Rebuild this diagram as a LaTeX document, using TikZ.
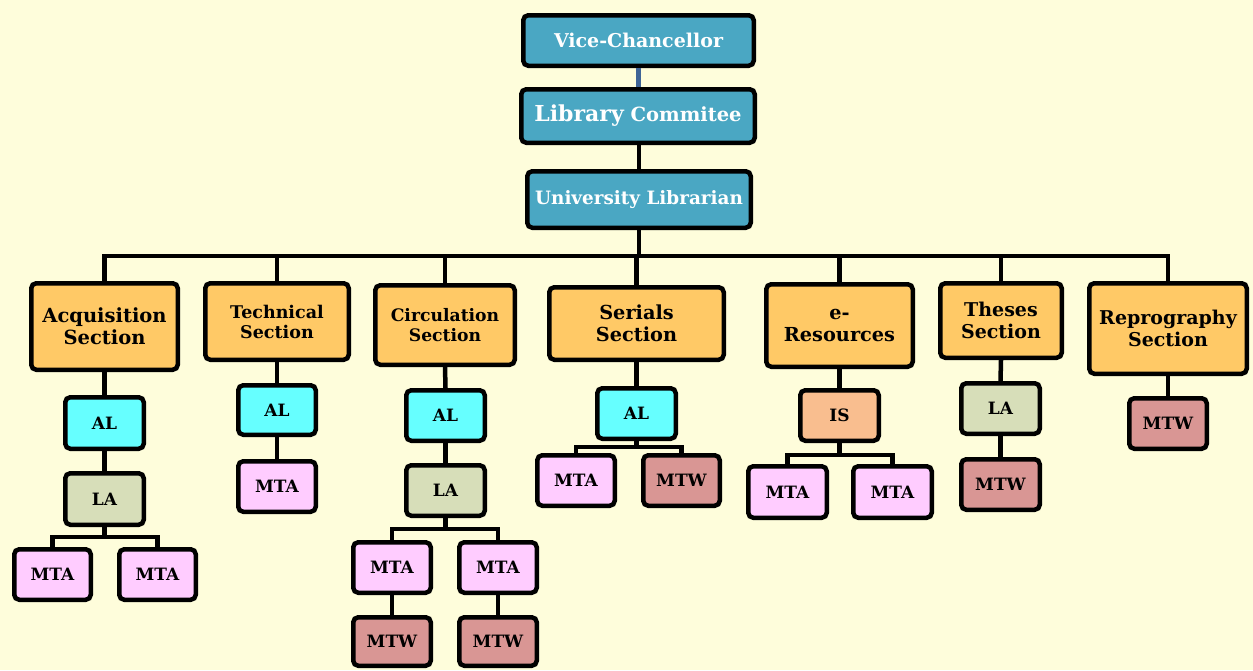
\documentclass[tikz,border=0pt]{standalone}
\usepackage{fontspec}
\setmainfont{DejaVu Serif}
\usetikzlibrary{calc}
\definecolor{bg}{HTML}{FEFDDB}
\definecolor{topc}{HTML}{4AA7C3}
\definecolor{secc}{HTML}{FFC966}
\definecolor{alc}{HTML}{66FFFF}
\definecolor{lac}{HTML}{D7DEB9}
\definecolor{mtac}{HTML}{FFCCFF}
\definecolor{mtwc}{HTML}{D99694}
\definecolor{isc}{HTML}{F9BE8F}
\definecolor{vcline}{HTML}{3F6496}
\tikzset{
  box/.style={draw=black, line width=4.5pt, rounded corners=5pt, inner sep=0pt, align=center, font=\bfseries},
  topbox/.style={box, fill=topc, text=white},
  secbox/.style={box, fill=secc},
  smallfont/.style={font=\bfseries\fontsize{17}{20}\selectfont},
  albox/.style={box, fill=alc, smallfont},
  labox/.style={box, fill=lac, smallfont},
  mtabox/.style={box, fill=mtac, smallfont},
  mtwbox/.style={box, fill=mtwc, smallfont},
  isbox/.style={box, fill=isc, smallfont},
  link/.style={draw=black, line width=4.5pt},
}
\newcommand\bx[7]{\node[#6, minimum width={#4-#2-4.5}, minimum height={#5-#3-4.5}] (#1) at ({(#2+#4)/2},{-(#3+#5)/2}) {#7};}
\begin{document}
\begin{tikzpicture}[x=1pt,y=1pt]
\fill[bg] (0,0) rectangle (1253,-670);
\useasboundingbox (0,0) rectangle (1253,-670);
% top
\bx{vc}{521}{13}{756}{68}{topbox, font=\bfseries\fontsize{19}{22}\selectfont}{Vice-Chancellor}
\bx{lc}{519}{87}{757}{145}{topbox, font=\bfseries\fontsize{19.5}{22}\selectfont}{{\fontsize{22}{24}\selectfont Library} Commitee}
\bx{ul}{525}{169}{753}{230}{topbox, font=\bfseries\fontsize{18.4}{22}\selectfont}{University Librarian}
% sections
\bx{acq}{29}{281}{180}{372}{secbox, font=\bfseries\fontsize{19.5}{22}\selectfont}{Acquisition\\Section}
\bx{tec}{203}{281}{351}{362}{secbox, font=\bfseries\fontsize{17.5}{20}\selectfont}{Technical\\Section}
\bx{cir}{373}{283}{517}{367}{secbox, font=\bfseries\fontsize{17.2}{20}\selectfont}{Circulation\\Section}
\bx{ser}{547}{285}{726}{362}{secbox, font=\bfseries\fontsize{19.3}{22}\selectfont}{Serials\\Section}
\bx{ere}{764}{282}{915}{369}{secbox, font=\bfseries\fontsize{19.3}{22}\selectfont}{e-\\Resources}
\bx{the}{938}{281}{1064}{360}{secbox, font=\bfseries\fontsize{19}{22}\selectfont}{Theses\\Section}
\bx{rep}{1087}{281}{1249}{376}{secbox, font=\bfseries\fontsize{19}{22}\selectfont}{Reprography\\Section}
% acquisition column
\bx{acqal}{63}{395}{146}{451}{albox}{AL}
\bx{acqla}{63}{471}{146}{527}{labox}{LA}
\bx{acqm1}{12}{547}{93}{602}{mtabox}{MTA}
\bx{acqm2}{117}{547}{198}{602}{mtabox}{MTA}
% technical column
\bx{tecal}{236}{383}{318}{437}{albox}{AL}
\bx{tecm}{236}{459}{318}{514}{mtabox}{MTA}
% circulation column
\bx{cir al}{404}{388}{487}{443}{albox}{AL}
\bx{cirla}{404}{463}{487}{518}{labox}{LA}
\bx{cirm1}{351}{540}{433}{595}{mtabox}{MTA}
\bx{cirm2}{457}{540}{539}{595}{mtabox}{MTA}
\bx{cirw1}{351}{615}{433}{668}{mtwbox}{MTW}
\bx{cirw2}{457}{615}{539}{668}{mtwbox}{MTW}
% serials column
\bx{seral}{595}{386}{678}{441}{albox}{AL}
\bx{serm}{535}{453}{617}{508}{mtabox}{MTA}
\bx{serw}{641}{453}{722}{508}{mtwbox}{MTW}
% e-resources column
\bx{eris}{798}{388}{881}{443}{isbox}{IS}
\bx{erm1}{746}{464}{829}{520}{mtabox}{MTA}
\bx{erm2}{851}{464}{934}{520}{mtabox}{MTA}
% theses column
\bx{thela}{959}{381}{1042}{436}{labox}{LA}
\bx{thew}{959}{457}{1042}{512}{mtwbox}{MTW}
% reprography column
\bx{repw}{1127}{396}{1209}{451}{mtwbox}{MTW}
% connectors
\coordinate (bus) at (0,-256);
\draw[draw=vcline, line width=5pt] (vc.south) -- (vc.south |- lc.north);
\draw[link] (ul.north |- lc.south) -- (ul.north);
\draw[link] (ul.south) -- (ul.south |- bus);
\draw[link, line cap=rect] (acq.north |- bus) -- (rep.north |- bus);
\foreach \s in {acq,tec,cir,ser,ere,the,rep} \draw[link] (\s.north) -- (\s.north |- bus);
\draw[link] (acq.south) -- (acqal.north);
\draw[link] (acqal.south) -- (acqla.north);
\draw[link] (acqla.south) -- (acqla.south |- 0,-537);
\draw[link] (acqm1.north) |- (acqm2.north |- 0,-537) -- (acqm2.north);
\draw[link] (tec.south) -- (tecal.north);
\draw[link] (tecal.south) -- (tecm.north);
\draw[link] (cir.south) -- (cir al.north);
\draw[link] (cir al.south) -- (cirla.north);
\draw[link] (cirla.south) -- (cirla.south |- 0,-529);
\draw[link] (cirm1.north) |- (cirm2.north |- 0,-529) -- (cirm2.north);
\draw[link] (cirm1.south) -- (cirw1.north);
\draw[link] (cirm2.south) -- (cirw2.north);
\draw[link] (ser.south) -- (seral.north);
\draw[link] (seral.south) -- (seral.south |- 0,-447);
\draw[link] (serm.north) |- (serw.north |- 0,-447) -- (serw.north);
\draw[link] (ere.south) -- (eris.north);
\draw[link] (eris.south) -- (eris.south |- 0,-455);
\draw[link] (erm1.north) |- (erm2.north |- 0,-455) -- (erm2.north);
\draw[link] (the.south) -- (thela.north);
\draw[link] (thela.south) -- (thew.north);
\draw[link] (rep.south) -- (repw.north);
\end{tikzpicture}
\end{document}
